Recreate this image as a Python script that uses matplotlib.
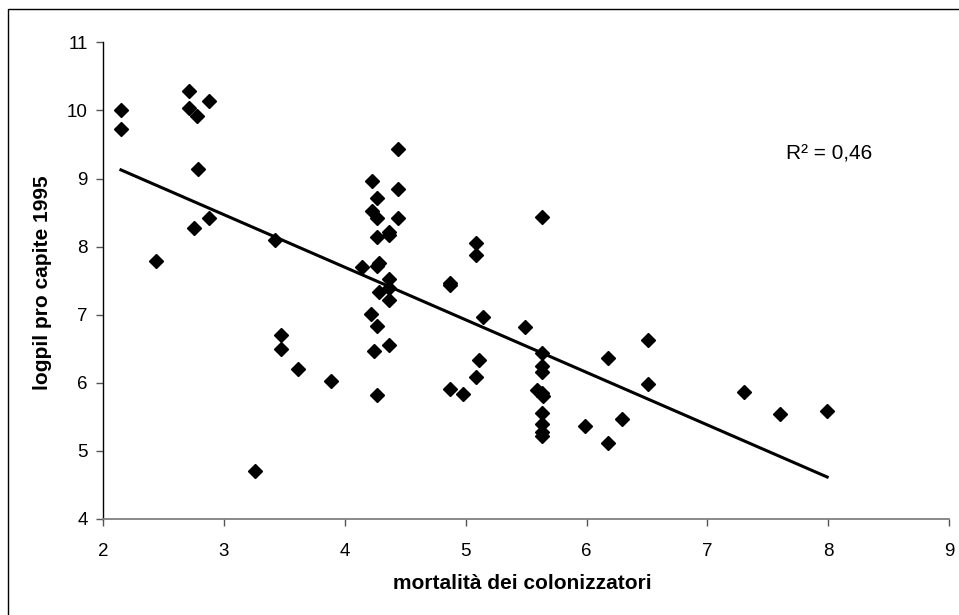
import numpy as np
import matplotlib
matplotlib.use("Agg")
import matplotlib.pyplot as plt
from matplotlib.patches import Rectangle

plt.rcParams["font.family"] = ["Liberation Sans", "DejaVu Sans"]

# mortalità dei colonizzatori (log) e logpil pro capite 1995
mortalita = [
    2.15, 2.15, 2.71, 2.71, 2.78, 2.88, 2.79, 2.88, 2.75, 2.44,
    3.42, 4.23, 4.44, 4.27, 4.44, 4.23, 4.27, 4.44, 4.37, 4.37,
    4.27, 4.14, 4.28, 4.27, 4.37, 4.37, 4.28, 4.37, 4.22, 4.27,
    4.37, 4.24, 3.47, 3.47, 3.61, 3.89, 4.27, 3.26, 5.63, 5.09,
    5.09, 4.87, 4.87, 5.14, 5.49, 5.63, 5.63, 5.63, 5.11, 5.09,
    4.87, 4.98, 5.59, 5.63, 5.64, 5.63, 5.63, 5.63, 5.63, 5.99,
    6.18, 6.29, 6.18, 6.51, 6.51, 7.30, 7.60, 7.99,
]
logpil = [
    10.00, 9.72, 10.28, 10.03, 9.92, 10.14, 9.14, 8.42, 8.28, 7.79,
    8.09, 8.97, 9.44, 8.72, 8.84, 8.52, 8.42, 8.42, 8.21, 8.17,
    8.14, 7.70, 7.76, 7.72, 7.52, 7.39, 7.34, 7.21, 7.01, 6.84,
    6.56, 6.47, 6.70, 6.49, 6.21, 6.03, 5.82, 4.70, 8.44, 8.05,
    7.88, 7.47, 7.43, 6.96, 6.82, 6.44, 6.24, 6.16, 6.33, 6.09,
    5.91, 5.84, 5.90, 5.85, 5.80, 5.55, 5.40, 5.28, 5.22, 5.36,
    5.12, 5.47, 6.37, 6.63, 5.98, 5.86, 5.54, 5.58,
]
r2_text = "R² = 0,46"

x = np.array(mortalita)
y = np.array(logpil)
slope, intercept = np.polyfit(x, y, 1)
x_line = np.array([x.min(), x.max()])

fig = plt.figure(figsize=(9.59, 6.15), dpi=100)
ax = fig.add_axes([0.1072, 0.1561, 0.8827, 0.7751])

ax.plot(x, y, linestyle="none", marker="D", markersize=7.5, color="black")
ax.plot(x_line, slope * x_line + intercept, color="black", linewidth=2.2)

ax.set_xlim(2, 9)
ax.set_ylim(4, 11)
ax.set_xticks(range(2, 10))
ax.set_yticks(range(4, 12))

for side in ["top", "right"]:
    ax.spines[side].set_visible(False)
ax.spines["bottom"].set_color("#808080")
ax.spines["bottom"].set_linewidth(1.3)
ax.spines["left"].set_color("black")
ax.spines["left"].set_linewidth(1.0)

ax.tick_params(axis="x", direction="out", length=5, width=1, color="#555555",
               labelsize=13.5, pad=12)
ax.tick_params(axis="y", direction="out", length=5, width=1, color="#555555",
               labelsize=13.5, pad=6)

ax.set_xlabel("mortalità dei colonizzatori", fontsize=15, fontweight="bold")
ax.xaxis.set_label_coords(0.496, -0.116)
ax.set_ylabel("logpil pro capite 1995", fontsize=15, fontweight="bold")
ax.yaxis.set_label_coords(-0.060, 0.495)

ax.text(0.8065, 0.765, r2_text, transform=ax.transAxes, fontsize=15,
        ha="left", va="center")

# cornice esterna del grafico
fig.patches.append(Rectangle((8 / 959, -0.1), 1.2, (615 - 9) / 615 + 0.1,
                             fill=False, edgecolor="black", linewidth=1,
                             transform=fig.transFigure))

fig.savefig("out.png", dpi=100)
